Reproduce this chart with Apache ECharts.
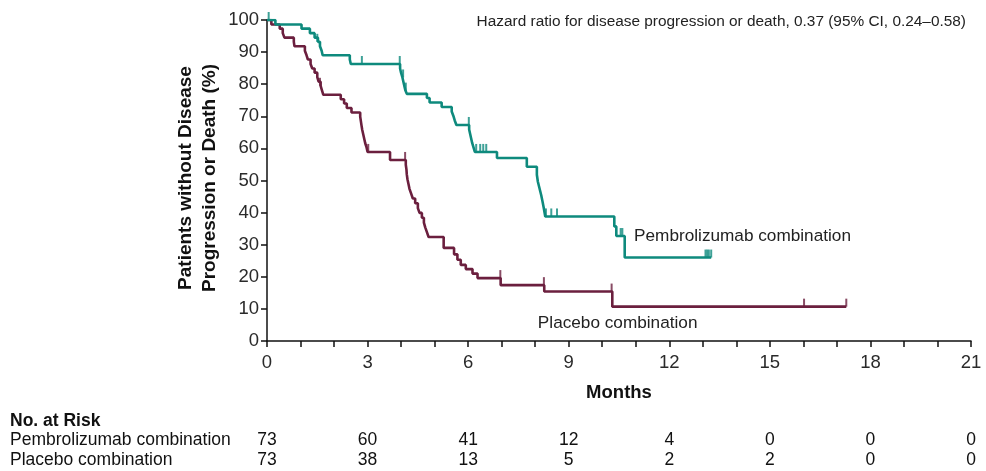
<!DOCTYPE html>
<html>
<head>
<meta charset="utf-8">
<script src="https://cdn.jsdelivr.net/npm/echarts@6/dist/echarts.min.js"></script>
<style>
  html, body { margin: 0; padding: 0; background: #ffffff; }
  #chart { width: 986px; height: 471px; }
</style>
</head>
<body>
<div id="chart"></div>
<script>
// Months shown on the x axis and used as columns for the at-risk table
const monthTicks = [0, 3, 6, 9, 12, 15, 18, 21];

// Kaplan-Meier step points [month, % without progression or death]
const pembroSteps = [
  [0, 100], [0.25, 98.6], [1.03, 97.3], [1.28, 95.9], [1.42, 94.5], [1.52, 93.2],
  [1.58, 91.8], [1.63, 90.4], [1.66, 89.0], [2.47, 87.7], [2.5, 86.3],
  [3.97, 84.9], [4.0, 83.5], [4.04, 82.1], [4.07, 80.7], [4.1, 79.3], [4.13, 78.0], [4.17, 77.0],
  [4.77, 75.7], [4.85, 74.3], [5.21, 72.9], [5.51, 71.5], [5.56, 70.1], [5.6, 68.7], [5.65, 67.3],
  [6.03, 65.9], [6.06, 64.5], [6.09, 63.1], [6.12, 61.7], [6.16, 60.3], [6.2, 58.9],
  [6.86, 57.0], [7.75, 54.3],
  [8.05, 51.8], [8.08, 49.6], [8.13, 47.5], [8.18, 45.4], [8.22, 43.4], [8.26, 41.2], [8.3, 38.8],
  [10.36, 35.7], [10.42, 32.7], [10.67, 26.0], [13.25, 26.0]
];
const placeboSteps = [
  [0, 100], [0.13, 98.6], [0.38, 97.3], [0.47, 95.9], [0.52, 94.5], [0.8, 93.2], [0.82, 91.8],
  [1.13, 90.4], [1.18, 89.0], [1.22, 87.7], [1.3, 86.3], [1.35, 84.9], [1.42, 83.6], [1.5, 82.2],
  [1.54, 80.8], [1.6, 79.5], [1.64, 78.1], [1.68, 76.7],
  [2.2, 75.3], [2.3, 74.0], [2.38, 72.6], [2.52, 71.2],
  [2.78, 69.9], [2.8, 68.5], [2.82, 67.1], [2.84, 65.8], [2.87, 64.4], [2.9, 63.0], [2.93, 61.6],
  [2.97, 60.3], [3.0, 58.9], [3.67, 56.4],
  [4.14, 54.9], [4.16, 53.4], [4.17, 51.9], [4.19, 50.4], [4.22, 48.9], [4.25, 47.4], [4.3, 45.9],
  [4.35, 44.4], [4.42, 42.9], [4.5, 41.4], [4.55, 39.9], [4.62, 38.4], [4.68, 36.9], [4.72, 35.4],
  [4.77, 33.9], [4.82, 32.4], [5.27, 29.0],
  [5.58, 27.0], [5.68, 25.3], [5.78, 23.7], [5.93, 22.4], [6.13, 21.0], [6.28, 19.6],
  [6.97, 17.4], [8.27, 15.4], [10.3, 10.7], [17.28, 10.7]
];

// Censored observations [month, curve level]
const pembroCensored = [
  [0.05, 100], [1.5, 93.2], [2.83, 86.3], [3.96, 86.3], [4.06, 82.1], [4.14, 78.0],
  [6.02, 67.3], [6.24, 58.9], [6.36, 58.9], [6.45, 58.9], [6.54, 58.9],
  [8.32, 38.8], [8.48, 38.8], [8.65, 38.8], [10.55, 32.7], [10.6, 32.7],
  [13.08, 26.0], [13.13, 26.0], [13.18, 26.0], [13.25, 26.0]
];
const placeboCensored = [
  [1.58, 79.5], [3.02, 58.9], [4.12, 56.4], [6.96, 19.6], [8.26, 17.4],
  [10.28, 15.4], [16.02, 10.7], [17.28, 10.7]
];

// Numbers at risk at each tick month
const riskPembro = [73, 60, 41, 12, 4, 0, 0, 0];
const riskPlacebo = [73, 38, 13, 5, 2, 2, 0, 0];

const groupNames = ['Pembrolizumab combination', 'Placebo combination'];
const hazardText = 'Hazard ratio for disease progression or death, 0.37 (95% CI, 0.24\u20130.58)';

const TEAL = '#0e8a7d';
const MAROON = '#6b1f3e';
const FONT = '"Liberation Sans", Arial, sans-serif';

const chart = echarts.init(document.getElementById('chart'), null, { renderer: 'canvas' });

const axisCommon = {
  axisLine: { show: true, lineStyle: { color: '#111', width: 1.5 } },
  axisTick: { show: true, inside: false, length: 6, lineStyle: { color: '#111', width: 1.5 } },
  minorTick: { show: false },
  splitLine: { show: false },
  axisLabel: { color: '#2a2a2a', fontSize: 18.5, fontFamily: FONT }
};

chart.setOption({
  animation: false,
  backgroundColor: '#ffffff',
  grid: { left: 267, right: 15, top: 20, bottom: 130, containLabel: false },
  xAxis: Object.assign({}, axisCommon, {
    type: 'value', min: 0, max: 21, interval: 3,
    minorTick: { show: true, splitNumber: 3, length: 6, lineStyle: { color: '#111', width: 1.5 } },
    axisLabel: Object.assign({}, axisCommon.axisLabel, { margin: 12 })
  }),
  yAxis: Object.assign({}, axisCommon, {
    type: 'value', min: 0, max: 100, interval: 10,
    axisLabel: Object.assign({}, axisCommon.axisLabel, { margin: 8 })
  }),
  series: [
    {
      name: groupNames[0], type: 'line', step: 'end', data: pembroSteps,
      symbol: 'none', lineStyle: { color: TEAL, width: 2.6 }, z: 3
    },
    {
      name: groupNames[1], type: 'line', step: 'end', data: placeboSteps,
      symbol: 'none', lineStyle: { color: MAROON, width: 2.6 }, z: 2
    },
    {
      type: 'scatter', data: pembroCensored, symbol: 'rect',
      symbolSize: [2, 8], symbolOffset: [0, -4], itemStyle: { color: TEAL }, z: 3
    },
    {
      type: 'scatter', data: placeboCensored, symbol: 'rect',
      symbolSize: [2, 8], symbolOffset: [0, -4], itemStyle: { color: MAROON }, z: 2
    }
  ]
});

// Annotations and the at-risk table, placed through the axis scales
const px = (t, s) => chart.convertToPixel({ gridIndex: 0 }, [t, s]);
const graphics = [];

const hz = px(20.85, 99.4);
graphics.push({ type: 'text', x: hz[0], y: hz[1],
  style: { text: hazardText, fill: '#222', font: '15.4px ' + FONT, textAlign: 'right', textVerticalAlign: 'middle' } });

const pl = px(10.95, 32.7);
graphics.push({ type: 'text', x: pl[0], y: pl[1],
  style: { text: groupNames[0], fill: '#222', font: '17.2px ' + FONT, textAlign: 'left', textVerticalAlign: 'middle' } });

const ql = px(8.08, 5.6);
graphics.push({ type: 'text', x: ql[0], y: ql[1],
  style: { text: groupNames[1], fill: '#222', font: '17.2px ' + FONT, textAlign: 'left', textVerticalAlign: 'middle' } });

// Y axis title (two lines, rotated)
graphics.push({ type: 'text', x: 198, y: 178, rotation: Math.PI / 2,
  style: { text: 'Patients without Disease\nProgression or Death (%)', fill: '#111',
    font: 'bold 19px ' + FONT, textAlign: 'center', textVerticalAlign: 'middle', lineHeight: 24 } });

// X axis title
const mx = px(10.5, 0);
graphics.push({ type: 'text', x: mx[0], y: 393,
  style: { text: 'Months', fill: '#111', font: 'bold 18.5px ' + FONT, textAlign: 'center', textVerticalAlign: 'middle' } });

// At-risk table
graphics.push({ type: 'text', x: 10, y: 421,
  style: { text: 'No. at Risk', fill: '#111', font: 'bold 17.5px ' + FONT, textAlign: 'left', textVerticalAlign: 'middle' } });
const rows = [[groupNames[0], riskPembro, 440], [groupNames[1], riskPlacebo, 460]];
rows.forEach(([label, counts, y]) => {
  graphics.push({ type: 'text', x: 10, y: y,
    style: { text: label, fill: '#111', font: '17.5px ' + FONT, textAlign: 'left', textVerticalAlign: 'middle' } });
  counts.forEach((n, i) => {
    const p = px(monthTicks[i], 0);
    graphics.push({ type: 'text', x: p[0], y: y,
      style: { text: String(n), fill: '#111', font: '17.5px ' + FONT, textAlign: 'center', textVerticalAlign: 'middle' } });
  });
});

chart.setOption({ graphic: { elements: graphics } });
</script>
</body>
</html>
